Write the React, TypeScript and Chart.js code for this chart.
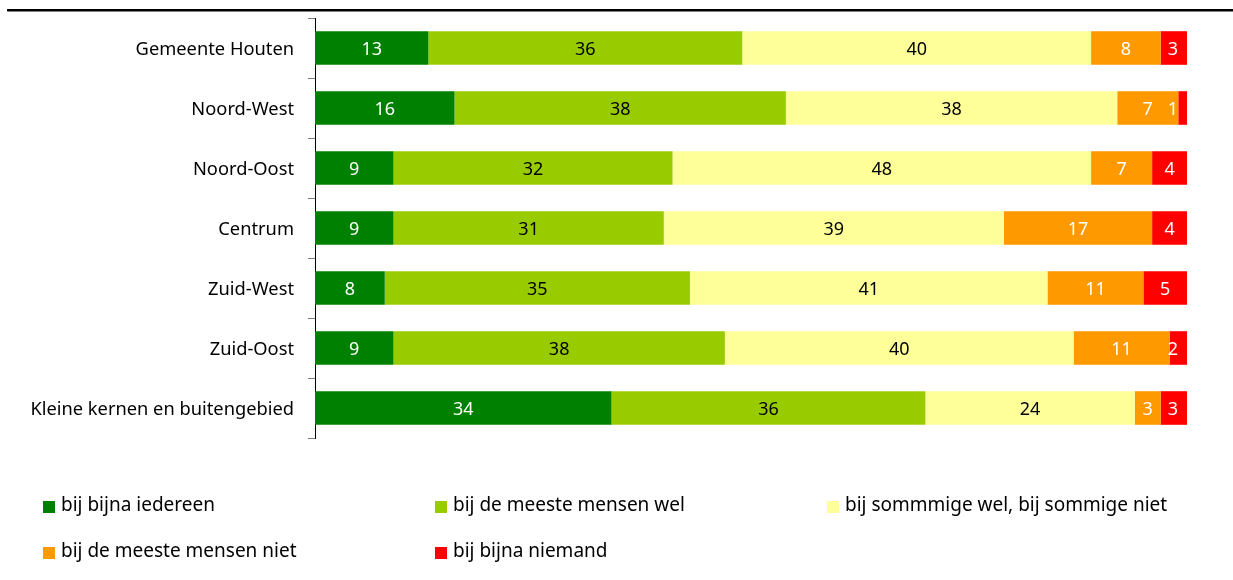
import React, { useEffect, useRef } from "react";
import { Chart, registerables } from "chart.js";

Chart.register(...registerables);

const categories = [
  "Gemeente Houten",
  "Noord-West",
  "Noord-Oost",
  "Centrum",
  "Zuid-West",
  "Zuid-Oost",
  "Kleine kernen en buitengebied",
];

const seriesNames = [
  "bij bijna iedereen",
  "bij de meeste mensen wel",
  "bij sommmige wel, bij sommige niet",
  "bij de meeste mensen niet",
  "bij bijna niemand",
];

const bijBijnaIedereen = [13, 16, 9, 9, 8, 9, 34];
const meesteMensenWel = [36, 38, 32, 31, 35, 38, 36];
const sommigeWelNiet = [40, 38, 48, 39, 41, 40, 24];
const meesteMensenNiet = [8, 7, 7, 17, 11, 11, 3];
const bijBijnaNiemand = [3, 1, 4, 4, 5, 2, 3];

const seriesValues = [
  bijBijnaIedereen,
  meesteMensenWel,
  sommigeWelNiet,
  meesteMensenNiet,
  bijBijnaNiemand,
];

const seriesColors = ["#008000", "#99CC00", "#FFFF99", "#FF9900", "#FF0000"];
const labelColors = ["#ffffff", "#000000", "#000000", "#ffffff", "#ffffff"];

const FONT = "'Noto Sans', sans-serif";

const decorPlugin = {
  id: "decor",
  afterDatasetsDraw(chart: any) {
    const ctx = chart.ctx;
    const area = chart.chartArea;
    ctx.save();
    ctx.font = `18px ${FONT}`;
    ctx.textAlign = "center";
    ctx.textBaseline = "middle";
    chart.data.datasets.forEach((ds: any, di: number) => {
      const meta = chart.getDatasetMeta(di);
      meta.data.forEach((el: any, i: number) => {
        const v = ds.data[i];
        if (v == null) return;
        let x = (el.base + el.x) / 2;
        x = Math.min(x, area.right - 14);
        ctx.fillStyle = labelColors[di];
        ctx.fillText(String(v), x, el.y + 2);
      });
    });
    ctx.restore();
  },
  afterDraw(chart: any) {
    const ctx = chart.ctx;
    ctx.save();
    ctx.fillStyle = "#000";
    ctx.fillRect(7, 9, 1226, 2.5);
    const cols = [43, 435, 827];
    const rows = [507, 553];
    ctx.font = `19px ${FONT}`;
    ctx.textAlign = "left";
    ctx.textBaseline = "middle";
    seriesNames.forEach((name, i) => {
      const cx = cols[i % 3];
      const cy = rows[Math.floor(i / 3)];
      ctx.fillStyle = seriesColors[i];
      ctx.fillRect(cx, cy - 6, 12, 12);
      ctx.fillStyle = "#000";
      ctx.fillText(name, cx + 18, cy - 1);
    });
    ctx.restore();
  },
};

export default function App() {
  const ref = useRef<HTMLCanvasElement | null>(null);

  useEffect(() => {
    if (!ref.current) return;
    const chart = new Chart(ref.current, {
      type: "bar",
      data: {
        labels: categories,
        datasets: seriesNames.map((name, i) => ({
          label: name,
          data: seriesValues[i],
          backgroundColor: seriesColors[i],
          borderWidth: 0,
          barPercentage: 0.56,
          categoryPercentage: 1,
        })),
      },
      options: {
        indexAxis: "y",
        responsive: false,
        animation: false,
        layout: { padding: { top: 18, right: 46, bottom: 142, left: 0 } },
        scales: {
          x: { stacked: true, min: 0, max: 100, display: false },
          y: {
            stacked: true,
            grid: {
              offset: true,
              drawOnChartArea: false,
              tickLength: 7,
              color: "#808080",
            },
            border: { color: "#000", width: 1 },
            ticks: {
              font: { family: FONT, size: 18.3 },
              color: "#000",
              padding: 14,
              labelOffset: 2,
            },
            afterFit: (s: any) => {
              s.width = 315;
              s.paddingTop = 0;
              s.paddingBottom = 0;
            },
          },
        },
        plugins: {
          legend: { display: false },
          tooltip: { enabled: false },
        },
      } as any,
      plugins: [decorPlugin],
    });
    return () => chart.destroy();
  }, []);

  return (
    <div style={{ position: "fixed", left: 0, top: 0, width: 1233, height: 580, background: "#fff" }}>
      <canvas ref={ref} width={1233} height={580} style={{ width: 1233, height: 580 }} />
    </div>
  );
}
